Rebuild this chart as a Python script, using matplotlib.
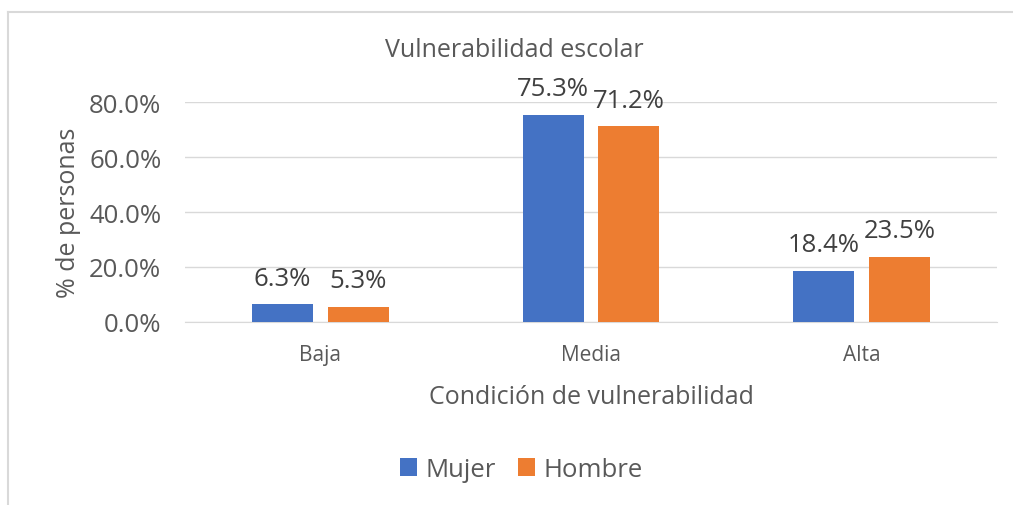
import numpy as np
import matplotlib.pyplot as plt
from matplotlib.lines import Line2D

categorias = ['Baja', 'Media', 'Alta']
mujer = [6.3, 75.3, 18.4]
hombre = [5.3, 71.2, 23.5]
series = ['Mujer', 'Hombre']

gris = '#595959'
plt.rcParams['font.family'] = ['Open Sans', 'DejaVu Sans']

fig = plt.figure(figsize=(10.13, 5.06), dpi=100)
ax = fig.add_axes([0.1826, 0.3622, 0.8016, 0.4336])

x = np.arange(len(categorias))
w = 0.225
off = 0.14
b1 = ax.bar(x - off, mujer, w, color='#4472C4', label=series[0], zorder=3)
b2 = ax.bar(x + off, hombre, w, color='#ED7D31', label=series[1], zorder=3)

for barras, vals in [(b1, mujer), (b2, hombre)]:
    for b, v in zip(barras, vals):
        ax.annotate(f'{v:.1f}%', (b.get_x() + b.get_width() / 2, v),
                    xytext=(0, 19), textcoords='offset points',
                    ha='center', va='center', fontsize=18.5, color='#404040',
                    annotation_clip=False)

ax.set_xlim(-0.5, 2.5)
ax.set_ylim(0, 80)
ax.set_yticks([0, 20, 40, 60, 80])
ax.set_yticklabels([f'{t:.1f}%' for t in [0, 20, 40, 60, 80]])
ax.set_xticks(x)
ax.set_xticklabels(categorias)
ax.tick_params(axis='y', length=0, labelsize=18.5, labelcolor=gris, pad=17)
ax.tick_params(axis='x', length=0, labelsize=15, labelcolor=gris, pad=16)
ax.grid(axis='y', color='#d9d9d9', linewidth=1, zorder=0)
for s in ['top', 'right', 'left']:
    ax.spines[s].set_visible(False)
ax.spines['bottom'].set_color('#d9d9d9')

ax.set_ylabel('% de personas', fontsize=18, color=gris, labelpad=6)
ax.set_xlabel('Condición de vulnerabilidad', fontsize=18, color=gris, labelpad=14)
fig.text(0.508, 0.9, 'Vulnerabilidad escolar', ha='center', va='center',
         fontsize=18, color=gris)

fig.legend(handles=[b1, b2], labels=series, loc='center', bbox_to_anchor=(0.515, 0.07),
           ncol=2, frameon=False, fontsize=18.5, labelcolor=gris,
           handlelength=0.65, handleheight=0.65, handletextpad=0.35, columnspacing=0.85)

# borde del grafico
fig.add_artist(Line2D([8 / 1013, 1012 / 1013], [1 - 13 / 506] * 2, color='#d9d9d9', lw=1.5))
fig.add_artist(Line2D([8 / 1013] * 2, [0, 1 - 13 / 506], color='#d9d9d9', lw=1.5))

fig.savefig('out.png', dpi=100, facecolor='white')
